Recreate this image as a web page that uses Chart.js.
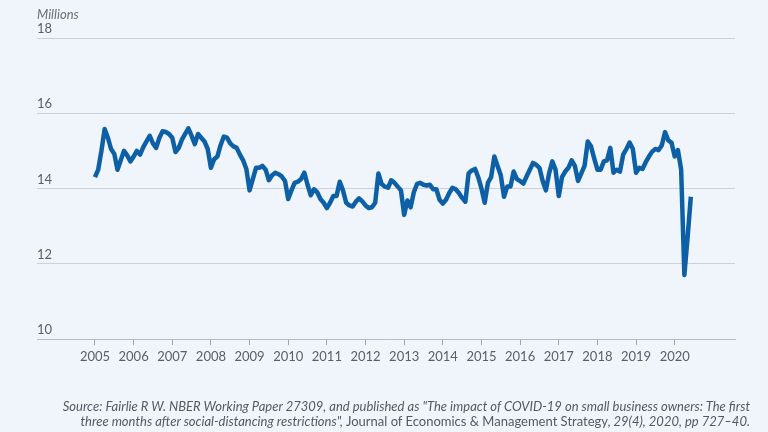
<!DOCTYPE html>
<html><head><meta charset="utf-8">
<script src="https://cdn.jsdelivr.net/npm/chart.js@4"></script>
<style>
html,body{margin:0;padding:0;background:#eff5fa;}
#wrap{position:relative;width:768px;height:432px;overflow:hidden;background:#eff5fa;}
#c{position:absolute;left:0;top:0;}
#unit{position:absolute;left:37px;top:6px;font:italic 13px Lato, sans-serif;color:#6b6f73;}
#src{position:absolute;right:18px;top:399px;text-align:right;font:italic 13px Lato, sans-serif;color:#555a5f;line-height:15px;white-space:nowrap;}
#src .up{font-style:normal;}
</style></head>
<body><div id="wrap"><canvas id="c" width="768" height="432"></canvas>
<div id="unit">Millions</div>
<div id="src">Source: Fairlie R W. NBER Working Paper 27309, and published as "The impact of COVID-19 on small business owners: The first<br>three months after social-distancing restrictions", <span class="up">Journal of Economics &amp; Management Strategy,</span> 29(4), 2020, pp 727–40.</div>
</div>
<script>
// Monthly number of active business owners (millions), Jan 2005 - Jun 2020
const startYear = 2005;
const owners2005 = [14.3,14.5,15.0,15.58,15.35,15.05,14.92,14.5,14.75,15.0,14.88,14.72];
const owners2006 = [14.85,15.0,14.9,15.1,15.25,15.4,15.2,15.08,15.35,15.52,15.5,15.45];
const owners2007 = [15.35,14.97,15.08,15.3,15.45,15.6,15.4,15.18,15.45,15.35,15.25,15.05];
const owners2008 = [14.55,14.78,14.85,15.15,15.38,15.35,15.2,15.12,15.08,14.9,14.75,14.52];
const owners2009 = [13.95,14.25,14.55,14.55,14.6,14.5,14.22,14.35,14.42,14.38,14.32,14.2];
const owners2010 = [13.72,13.95,14.15,14.18,14.25,14.42,14.1,13.82,13.98,13.9,13.72,13.62];
const owners2011 = [13.48,13.62,13.8,13.8,14.18,13.95,13.62,13.55,13.52,13.65,13.74,13.66];
const owners2012 = [13.55,13.48,13.5,13.62,14.4,14.12,14.05,14.02,14.22,14.15,14.05,13.95];
const owners2013 = [13.3,13.68,13.5,13.9,14.12,14.15,14.1,14.08,14.1,13.98,13.98,13.7];
const owners2014 = [13.6,13.7,13.88,14.02,13.98,13.88,13.75,13.65,14.4,14.48,14.52,14.3];
const owners2015 = [14.0,13.62,14.15,14.3,14.85,14.6,14.35,13.78,14.05,14.05,14.45,14.25];
const owners2016 = [14.2,14.13,14.32,14.5,14.68,14.63,14.55,14.2,13.95,14.4,14.72,14.5];
const owners2017 = [13.8,14.3,14.45,14.55,14.75,14.6,14.2,14.4,14.6,15.25,15.12,14.8];
const owners2018 = [14.5,14.5,14.72,14.75,15.08,14.42,14.5,14.45,14.9,15.05,15.22,15.05];
const owners2019 = [14.42,14.55,14.52,14.7,14.85,14.98,15.05,15.02,15.15,15.5,15.28,15.22];
const owners2020 = [14.85,15.02,14.5,11.7,12.7,13.78];

const yearTicks = [2005,2006,2007,2008,2009,2010,2011,2012,2013,2014,2015,2016,2017,2018,2019,2020];
const yearLabels = ["2005","2006","2007","2008","2009","2010","2011","2012","2013","2014","2015","2016","2017","2018","2019","2020"];
const valueTicks = [10,12,14,16,18];
const valueLabels = ["10","12","14","16","18"];

const allValues = [].concat(owners2005,owners2006,owners2007,owners2008,owners2009,owners2010,owners2011,owners2012,owners2013,owners2014,owners2015,owners2016,owners2017,owners2018,owners2019,owners2020);
const points = allValues.map((v,i)=>({x: startYear + i/12, y: v}));

const FONT = 'Lato, sans-serif';
new Chart(document.getElementById('c'), {
  type: 'line',
  data: { datasets: [{ data: points, borderColor: '#0d5fa6', borderWidth: 4.5, pointRadius: 0, tension: 0, borderJoinStyle: 'round', borderCapStyle: 'butt', fill: false }] },
  options: {
    responsive: false, animation: false, devicePixelRatio: 1,
    layout: { padding: { left: 37, right: 33, top: 38, bottom: 63 } },
    plugins: { legend: { display: false }, tooltip: { enabled: false } },
    scales: {
      x: {
        type: 'linear', min: 2003.5, max: 2021.56,
        afterBuildTicks: (s) => { s.ticks = yearTicks.map(v => ({ value: v })); },
        afterFit: (s) => { s.height = 30; },
        ticks: { autoSkip: false, maxRotation: 0, padding: 4, color: '#5a5f64', font: { family: FONT, size: 13 },
          callback: (v) => { const i = yearTicks.indexOf(v); return i >= 0 ? yearLabels[i] : ''; } },
        grid: { drawOnChartArea: false, drawTicks: true, tickLength: 6, color: '#9da2a7', lineWidth: 1 },
        border: { display: true, color: '#b9bdc2', width: 1 }
      },
      y: {
        min: 10, max: 18,
        afterBuildTicks: (s) => { s.ticks = valueTicks.map(v => ({ value: v })); },
        afterFit: (s) => { s.width = 0; },
        ticks: { mirror: true, padding: 0, labelOffset: -9, color: '#5a5f64', font: { family: FONT, size: 13 },
          callback: (v) => { const i = valueTicks.indexOf(v); return i >= 0 ? valueLabels[i] : ''; } },
        grid: { drawTicks: false, color: '#cdd1d5', lineWidth: 1 },
        border: { display: false }
      }
    }
  }
});
</script>
</body></html>
